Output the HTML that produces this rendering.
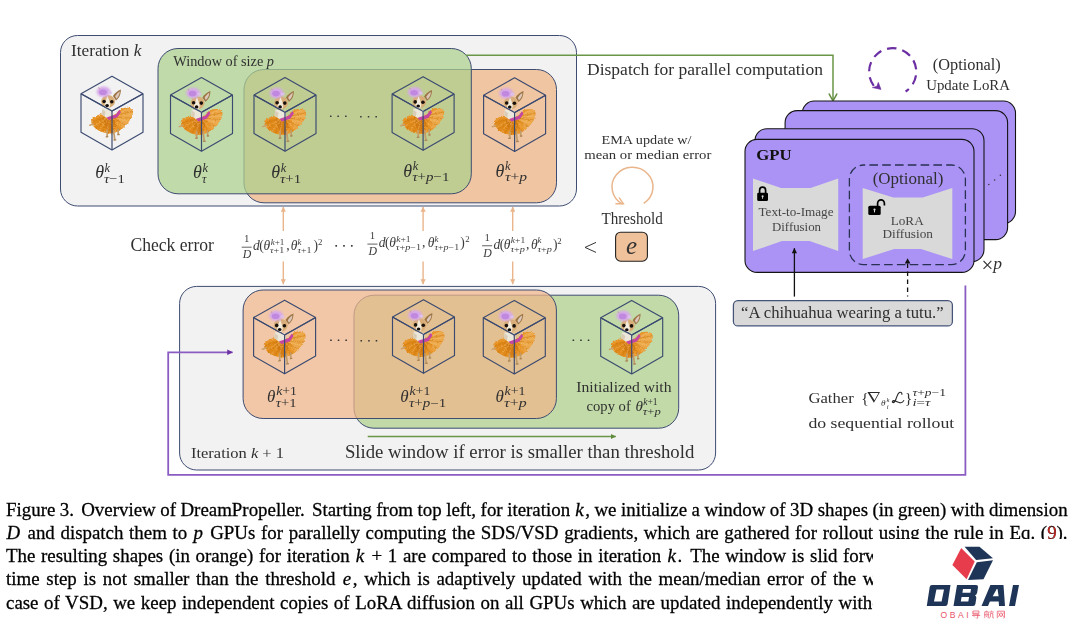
<!DOCTYPE html>
<html>
<head>
<meta charset="utf-8">
<title>Figure 3 - DreamPropeller</title>
<style>
html,body{margin:0;padding:0;background:#fff;}
body{width:1080px;height:629px;position:relative;overflow:hidden;font-family:"Liberation Serif",serif;}
svg{position:absolute;left:0;top:0;}
body>svg,.cap{will-change:transform;}
svg text{font-family:"Liberation Serif",serif;fill:#303030;}
svg .fm text{fill:#3c3c3c;}
.it{font-style:italic;}
.cap{position:absolute;left:6.1px;width:1070px;height:24px;font-size:18.9px;line-height:24px;color:#000;text-align:left;white-space:nowrap;-webkit-text-stroke:0.28px #000;font-family:"Liberation Serif",serif;}
.cap b{display:inline-block;width:2.7px;}
.cap i{font-style:italic;margin:0 1.6px 0 0.6px;}
.wm{position:absolute;left:873px;top:539px;width:207px;height:90px;background:#fff;}
</style>
</head>
<body>
<svg width="1080" height="629" viewBox="0 0 1080 629">
<defs>
  <filter id="bl" x="-20%" y="-20%" width="140%" height="140%"><feGaussianBlur stdDeviation="0.7"/></filter>
  <filter id="bl2" x="-30%" y="-30%" width="160%" height="160%"><feGaussianBlur stdDeviation="1.1"/></filter>
  <!-- dog + cube, origin = cube top vertex -->
  <filter id="fluff" x="-20%" y="-20%" width="140%" height="140%">
    <feTurbulence type="fractalNoise" baseFrequency="0.55" numOctaves="2" seed="7" result="n"/>
    <feDisplacementMap in="SourceGraphic" in2="n" scale="3.2" xChannelSelector="R" yChannelSelector="G" result="d"/>
    <feGaussianBlur in="d" stdDeviation="0.45"/>
  </filter>
  <filter id="tex" x="0" y="0" width="100%" height="100%">
    <feTurbulence type="fractalNoise" baseFrequency="0.9 0.35" numOctaves="2" seed="3" result="n"/>
    <feColorMatrix in="n" type="matrix" values="0 0 0 0 0.78  0 0 0 0 0.42  0 0 0 0 0.05  1.6 0 0 0 -0.55" result="c"/>
    <feComposite in="c" in2="SourceGraphic" operator="in"/>
  </filter>
  <g id="dog">
    <g transform="translate(-0.4,33) scale(1.03,1.075) translate(0,-33)">
    <!-- tutu -->
    <g filter="url(#fluff)">
      <path d="M-19.8,44.7 C-19.4,42.4 -18.2,40.8 -16.7,40.2 C-14.8,38.8 -12.6,38 -10.3,37.7 C-7.6,38.6 -5.2,39.8 -2.7,40.2 C0,39.4 2.6,38 4.9,36.4 C6.2,35 7.4,33.6 8.7,32.6 C11,31.6 13.8,31.2 16.4,31.6 C18.6,32.2 20.4,33.4 20.8,35.1 C20.8,37.4 20,39.6 18.9,41.5 C17.5,43.8 15.8,46 13.8,47.9 C11.9,49.8 9.8,51.5 7.5,52.9 C5.1,54.2 2.6,55.2 -0.1,55.6 C-3.2,55.6 -6.2,55.1 -9,54.2 C-11.6,53.3 -14,52 -16,50.4 C-17.9,48.9 -19.4,47 -19.8,44.7 Z" fill="#e8952a"/>
      <path d="M6.2,38 C8,34.6 13.5,31.6 18.2,32.4 C20.6,33.6 20.6,37.4 18.9,41.5 C16.8,45 14,47.8 11,50 C8.2,47 6.2,42.6 6.2,38 Z" fill="#eca748"/>
      <path d="M-18.4,45 C-16.5,41.2 -11,39.4 -6.5,40.6 C-3.6,44.6 -3.6,51.4 -6.8,54.4 C-12.4,53.8 -17.6,50 -18.4,45 Z" fill="#e08a1c"/>
      <path d="M-8.5,41 C-5.5,42.4 -1,42.6 3,41 C4.6,45.6 3.6,51.4 0.4,55 C-3.4,54.6 -7.2,50 -8.5,41 Z" fill="#d47d14"/>
    </g>
    <g filter="url(#fluff)" fill="none" stroke-linecap="round">
      <path d="M-5.5,40.6 L-19.3,44.5 M-4.7,41.9 L-15.6,50.3 M-3.1,42.7 L-8.8,53.8 M-1.2,43.0 L-0.1,55.1 M0.5,42.4 L7.2,52.5 M1.9,41.3 L13.3,47.6 M3.0,39.9 L18.3,41.4 M3.4,38.5 L19.9,35.2" stroke="#c9720e" stroke-width="0.9" opacity="0.5"/>
      <path d="M-5.1,41.6 L-17.5,48.7 M-3.9,42.4 L-12.2,52.4 M-2.3,43.0 L-4.9,54.7 M-0.4,42.8 L3.3,54.1 M1.2,41.9 L10.4,50.3 M2.5,40.7 L16.0,44.6 M3.3,39.2 L19.5,38.0 M2.6,38.1 L16.4,33.2" stroke="#f5c77c" stroke-width="0.9" opacity="0.42"/>
    </g>
    </g>
    <!-- tail -->
    <path d="M-22.2,49 L-18.5,47.6" stroke="#c9a06c" stroke-width="1.5" stroke-linecap="round"/>
    <!-- legs -->
    <path d="M-4.8,54 L-4.9,60 M1.6,54 L2.7,63 M6.1,53 L6.2,57.8" stroke="#c39c68" stroke-width="1.7" stroke-linecap="round"/>
    <path d="M-5.8,60.6 L-4.2,60.4 M2,63.7 L3.8,63.5 M5.8,58.4 L7.2,58.2" stroke="#a88455" stroke-width="1.3" stroke-linecap="round"/>
    <!-- pink band -->
    <path d="M-6.6,40 L3.6,38.4 L7.4,33.4 L8.9,35.9 L5.2,41.2 L-3.2,43.8 Z" fill="#c446a4" filter="url(#bl)"/>
    <!-- chest -->
    <path d="M-9.6,31.8 L0.4,33.3 L1.4,38.8 L-5.9,41.4 L-10.4,37.6 Z" fill="#ece7db"/>
    <path d="M-9.6,33 L-6.5,35.5 L-7.4,40 L-10.4,37.6 Z" fill="#d9cdb8"/>
    <!-- ears -->
    <path d="M0.9,19.8 C3,16.5 6,14.5 8.9,13.3 C8.8,16 8.4,18 7.7,19.6 C6.8,21.4 5.5,23 4,24.1 Z" fill="#9c7444"/>
    <path d="M3.1,20 C4.6,17.6 6.2,16.2 7.8,15.2 C7.7,17.2 7.2,18.8 6.4,20 C5.8,21.2 5,22 4.3,22.5 Z" fill="#dcc7ba"/>
    <path d="M-12.2,15.2 L-13.8,10.8 L-10.2,13.8 Z" fill="#a98050"/>
    <!-- head -->
    <ellipse cx="-3.9" cy="25.1" rx="6.9" ry="6.3" fill="#d8ad78"/>
    <path d="M-4.6,19.4 C-3.4,22 -2.6,25 -1.9,27.6 C-1.6,30 -2.8,32 -4.8,32.2 C-6.8,32 -7.8,30 -7.4,27.8 C-6.6,25.5 -5.6,22.5 -4.6,19.4 Z" fill="#f3ecdc"/>
    <circle cx="-7.9" cy="25.2" r="1.8" fill="#17100c"/>
    <circle cx="-0.2" cy="25.5" r="1.8" fill="#17100c"/>
    <ellipse cx="-4.9" cy="29.3" rx="1.8" ry="1.55" fill="#120c0a"/>
    <!-- purple pouf -->
    <ellipse cx="-8.4" cy="15.4" rx="6.9" ry="5.2" fill="#d6a8ea" filter="url(#bl2)"/>
    <ellipse cx="-2.2" cy="16.4" rx="2" ry="1.6" fill="#dcc0ea" filter="url(#bl)"/>
    <ellipse cx="-9" cy="16" rx="3.8" ry="2.8" fill="#c088de" filter="url(#bl)"/>
  </g>
  <g id="cubeback">
    <path d="M0,0 L-31,17.4 L0,34.7 L31,17.4 Z M-31,17.4 L-31,55.9 L0,73.6 L31,55.9 L31,17.4" fill="none" stroke="#3b4a70" stroke-width="1.15" stroke-linejoin="round"/>
  </g>
  <g id="cube">
    <use href="#cubeback"/>
    <use href="#dog"/>
    <path d="M0,34.7 L0,73.6" fill="none" stroke="#3b4a70" stroke-width="1.2"/>
    <path d="M-31,17.4 L0,34.7 L31,17.4" fill="none" stroke="#3b4a70" stroke-width="1.15"/>
  </g>
</defs>

<!-- ============ TOP: Iteration k ============ -->
<rect x="60.5" y="35.5" width="516" height="170.5" rx="17" ry="17" fill="#f2f2f2" stroke="#3e4c72" stroke-width="1"/>
<rect x="244" y="69.5" width="312.5" height="133.3" rx="20" ry="20" fill="#f0c5a2" stroke="#3e4c72" stroke-width="1"/>
<rect x="158" y="48.5" width="313.3" height="145.3" rx="20" ry="20" fill="#add08d" fill-opacity="0.73" stroke="#3e4c72" stroke-width="1"/>


<!-- cubes top -->
<use href="#cube" x="112" y="76.3"/>
<use href="#cube" x="201.5" y="77.6"/>
<use href="#cube" x="285" y="77.6"/>
<use href="#cube" x="423.1" y="76.7"/>
<use href="#cube" x="514.6" y="77.8"/>
<text x="71" y="55.8" font-size="16.3" textLength="70.3" lengthAdjust="spacingAndGlyphs">Iteration <tspan class="it">k</tspan></text>
<text x="173.3" y="66.2" font-size="13.6" textLength="100.7" lengthAdjust="spacingAndGlyphs">Window of size <tspan class="it">p</tspan></text>
<!-- dots top -->
<g fill="#3a3a3a">
<rect x="329.95" y="115.45" width="1.6" height="1.6" rx="0.4"/><rect x="337.35" y="115.45" width="1.6" height="1.6" rx="0.4"/><rect x="345.05" y="115.45" width="1.6" height="1.6" rx="0.4"/>
<rect x="360.05" y="115.95" width="1.6" height="1.6" rx="0.4"/><rect x="367.75" y="115.95" width="1.6" height="1.6" rx="0.4"/><rect x="375.35" y="115.95" width="1.6" height="1.6" rx="0.4"/>
</g>
<!-- theta labels top -->
<g font-size="18">
<text x="95.2" y="178.3" class="it">θ<tspan font-size="12.3" x="104.6" y="171.6">k</tspan></text>
<text x="104" y="182.8" font-size="12.3" class="it" textLength="20.9" lengthAdjust="spacingAndGlyphs">τ<tspan font-style="normal">−1</tspan></text>
<text x="193" y="178.3" class="it">θ<tspan font-size="12.3" x="202.4" y="171.6">k</tspan><tspan font-size="12.3" x="202" y="182.8">τ</tspan></text>
<text x="271.3" y="178.3" class="it">θ<tspan font-size="12.3" x="280.7" y="171.6">k</tspan></text>
<text x="280" y="182.8" font-size="12.3" class="it" textLength="21.1" lengthAdjust="spacingAndGlyphs">τ<tspan font-style="normal">+1</tspan></text>
<text x="403.3" y="176.5" class="it">θ<tspan font-size="12.3" x="412.7" y="169.8">k</tspan></text>
<text x="412.2" y="181" font-size="12.3" class="it" textLength="37.3" lengthAdjust="spacingAndGlyphs">τ<tspan font-style="normal">+</tspan>p<tspan font-style="normal">−1</tspan></text>
<text x="495.5" y="176.5" class="it">θ<tspan font-size="12.3" x="504.9" y="169.8">k</tspan></text>
<text x="505" y="181" font-size="12.3" class="it" textLength="22.2" lengthAdjust="spacingAndGlyphs">τ<tspan font-style="normal">+</tspan>p</text>
</g>


<!-- ============ MIDDLE ROW ============ -->
<defs>
  <marker id="ao" viewBox="0 0 10 10" refX="9.6" refY="5" markerWidth="5.4" markerHeight="5.4" orient="auto-start-reverse" markerUnits="userSpaceOnUse">
    <path d="M0.4,0.2 L10,5 L0.4,9.8 Z" fill="#eab58b" stroke="none"/>
  </marker>
</defs>
<g stroke="#eab58b" stroke-width="1.4" fill="none">
  <path d="M283.3,231 L283.3,206.9" marker-end="url(#ao)"/>
  <path d="M283.3,261.6 L283.3,284.2" marker-end="url(#ao)"/>
  <path d="M423.1,231 L423.1,206.9" marker-end="url(#ao)"/>
  <path d="M423.1,261.6 L423.1,284.2" marker-end="url(#ao)"/>
  <path d="M512.7,231 L512.7,206.9" marker-end="url(#ao)"/>
  <path d="M512.7,261.6 L512.7,284.2" marker-end="url(#ao)"/>
</g>
<text x="130.4" y="250.6" font-size="18.2" textLength="83.6" lengthAdjust="spacingAndGlyphs">Check error</text>

<!-- formula 1 -->
<g class="fm" fill="#3a3a3a">
<line x1="241.7" y1="247.2" x2="251.7" y2="247.2" stroke="#3a3a3a" stroke-width="0.8"/>
<text x="246.8" y="242.2" font-size="10.8" text-anchor="middle">1</text>
<text x="247" y="258.3" font-size="11.8" text-anchor="middle" class="it">D</text>
<text y="250" font-size="13.6"><tspan x="252.9" class="it">d</tspan><tspan x="259.2">(</tspan><tspan x="263.4" class="it">θ</tspan><tspan x="286.3">,</tspan><tspan x="290.8" class="it">θ</tspan><tspan x="313.4">)</tspan></text>
<text font-size="8.8" x="270.7" y="244.8" textLength="13.7" lengthAdjust="spacingAndGlyphs"><tspan class="it">k</tspan>+1</text>
<text font-size="8.8" x="270" y="253.4" textLength="14.3" lengthAdjust="spacingAndGlyphs"><tspan class="it">τ</tspan>+1</text>
<text font-size="8.8" x="297.6" y="244.8" class="it">k</text>
<text font-size="8.8" x="297.4" y="253.4" textLength="14.2" lengthAdjust="spacingAndGlyphs"><tspan class="it">τ</tspan>+1</text>
<text font-size="8.8" x="317.9" y="245.4">2</text>
</g>
<g fill="#333"><rect x="335.35" y="244.95" width="1.7" height="1.7" rx="0.4"/><rect x="343.15" y="244.95" width="1.7" height="1.7" rx="0.4"/><rect x="350.95" y="244.95" width="1.7" height="1.7" rx="0.4"/></g>

<!-- formula 2 -->
<g class="fm" fill="#3a3a3a" transform="translate(0,-3.1)">
<line x1="367.4" y1="247.2" x2="377.5" y2="247.2" stroke="#3a3a3a" stroke-width="0.8"/>
<text x="372.5" y="242.2" font-size="10.8" text-anchor="middle">1</text>
<text x="372.7" y="258.3" font-size="11.8" text-anchor="middle" class="it">D</text>
<text y="250" font-size="13.6"><tspan x="378.7" class="it">d</tspan><tspan x="385">(</tspan><tspan x="389.2" class="it">θ</tspan><tspan x="422">,</tspan><tspan x="427.8" class="it">θ</tspan><tspan x="460.2">)</tspan></text>
<text font-size="8.8" x="396.2" y="244.8" textLength="14.4" lengthAdjust="spacingAndGlyphs"><tspan class="it">k</tspan>+1</text>
<text font-size="8.8" x="434.6" y="244.8" class="it">k</text>
<text font-size="8.8" x="465.3" y="245.4">2</text>
<text font-size="8.6" x="395.8" y="253.4" textLength="25.4" lengthAdjust="spacingAndGlyphs"><tspan class="it">τ</tspan>+<tspan class="it">p</tspan>−1</text>
<text font-size="8.6" x="434.4" y="253.4" textLength="24.8" lengthAdjust="spacingAndGlyphs"><tspan class="it">τ</tspan>+<tspan class="it">p</tspan>−1</text>
</g>

<!-- formula 3 -->
<g class="fm" fill="#3a3a3a" transform="translate(0,-1.45)">
<line x1="482.1" y1="247.2" x2="492.2" y2="247.2" stroke="#3a3a3a" stroke-width="0.8"/>
<text x="487.2" y="242.2" font-size="10.8" text-anchor="middle">1</text>
<text x="487.4" y="258.3" font-size="11.8" text-anchor="middle" class="it">D</text>
<text y="250" font-size="13.6"><tspan x="493.4" class="it">d</tspan><tspan x="499.7">(</tspan><tspan x="503.8" class="it">θ</tspan><tspan x="526">,</tspan><tspan x="531" class="it">θ</tspan><tspan x="553">)</tspan></text>
<text font-size="8.8" x="510.8" y="244.8" textLength="14.4" lengthAdjust="spacingAndGlyphs"><tspan class="it">k</tspan>+1</text>
<text font-size="8.8" x="537.6" y="244.8" class="it">k</text>
<text font-size="8.8" x="557.3" y="245.4">2</text>
<text font-size="8.6" x="510.4" y="253.4" textLength="14.6" lengthAdjust="spacingAndGlyphs"><tspan class="it">τ</tspan>+<tspan class="it">p</tspan></text>
<text font-size="8.6" x="537.4" y="253.4" textLength="14.6" lengthAdjust="spacingAndGlyphs"><tspan class="it">τ</tspan>+<tspan class="it">p</tspan></text>
</g>

<!-- < e -->
<path d="M596,242.4 L585,247.4 L596,252.4" fill="none" stroke="#333" stroke-width="1"/>
<rect x="615.6" y="232.2" width="31.8" height="29" rx="5" ry="5" fill="#f0c29c" stroke="#222" stroke-width="1.1"/>
<text x="631.6" y="253.6" font-size="25" text-anchor="middle" class="it" style="fill:#333">e</text>
<text x="601.5" y="223.7" font-size="15.8" textLength="61.3" lengthAdjust="spacingAndGlyphs">Threshold</text>

<!-- EMA -->
<text x="601.5" y="143.8" font-size="13.4" textLength="90" lengthAdjust="spacingAndGlyphs">EMA update w/</text>
<text x="584.3" y="159.3" font-size="13.4" textLength="127" lengthAdjust="spacingAndGlyphs">mean or median error</text>
<path d="M643.7,203.34 A20.5,19.6 0 1 0 622.6,204.1" fill="none" stroke="#eab58b" stroke-width="1.5"/>
<path d="M619.3,197.9 L623.4,203.7 L615.9,203.7" fill="none" stroke="#eab58b" stroke-width="1.4" stroke-linecap="round" stroke-linejoin="miter"/>

<!-- ============ BOTTOM: Iteration k+1 ============ -->
<rect x="179.6" y="286.4" width="536" height="183.6" rx="17" ry="17" fill="#f2f2f2" stroke="#3e4c72" stroke-width="1"/>
<rect x="354" y="295.2" width="324.7" height="133" rx="20" ry="20" fill="#c1daa8" stroke="#3e4c72" stroke-width="1"/>
<rect x="243.1" y="290" width="313.3" height="128.5" rx="20" ry="20" fill="#f0b589" fill-opacity="0.72" stroke="#3e4c72" stroke-width="1"/>

<!-- cubes bottom -->
<use href="#cube" x="284.6" y="300.2"/>
<use href="#cube" x="423.5" y="299.7"/>
<use href="#cube" x="514.3" y="300.4"/>
<use href="#cube" x="631.7" y="300.4"/>
<g fill="#333">
<rect x="330.15" y="339.45" width="1.6" height="1.6" rx="0.4"/><rect x="337.75" y="339.45" width="1.6" height="1.6" rx="0.4"/><rect x="345.35" y="339.45" width="1.6" height="1.6" rx="0.4"/>
<rect x="360.45" y="339.95" width="1.6" height="1.6" rx="0.4"/><rect x="368.15" y="339.95" width="1.6" height="1.6" rx="0.4"/><rect x="375.65" y="339.95" width="1.6" height="1.6" rx="0.4"/>
<rect x="572.55" y="339.45" width="1.6" height="1.6" rx="0.4"/><rect x="580.15" y="339.45" width="1.6" height="1.6" rx="0.4"/><rect x="587.75" y="339.45" width="1.6" height="1.6" rx="0.4"/>
</g>
<g font-size="17">
<text x="267" y="402.2" class="it">θ</text>
<text x="276.2" y="395.4" font-size="11.6" class="it" textLength="20.8" lengthAdjust="spacingAndGlyphs">k<tspan font-style="normal">+1</tspan></text>
<text x="275.8" y="406.6" font-size="11.6" class="it" textLength="20.8" lengthAdjust="spacingAndGlyphs">τ<tspan font-style="normal">+1</tspan></text>
<text x="400.3" y="402.2" class="it">θ</text>
<text x="409.5" y="395.4" font-size="11.6" class="it" textLength="20.8" lengthAdjust="spacingAndGlyphs">k<tspan font-style="normal">+1</tspan></text>
<text x="408.9" y="406.6" font-size="11.6" class="it" textLength="37.4" lengthAdjust="spacingAndGlyphs">τ<tspan font-style="normal">+</tspan>p<tspan font-style="normal">−1</tspan></text>
<text x="495.4" y="402.2" class="it">θ</text>
<text x="504.6" y="395.4" font-size="11.6" class="it" textLength="20.8" lengthAdjust="spacingAndGlyphs">k<tspan font-style="normal">+1</tspan></text>
<text x="504" y="406.6" font-size="11.6" class="it" textLength="22.6" lengthAdjust="spacingAndGlyphs">τ<tspan font-style="normal">+</tspan>p</text>
</g>
<text x="576.3" y="391.7" font-size="15.2" textLength="95.2" lengthAdjust="spacingAndGlyphs">Initialized with</text>
<text x="586.6" y="411.3" font-size="15.2" textLength="44.2" lengthAdjust="spacingAndGlyphs">copy of</text>
<text x="635.4" y="411.3" font-size="15.2" class="it">θ<tspan font-size="9.6" x="643.2" y="405.4">k<tspan font-style="normal">+1</tspan></tspan></text>
<text x="642.8" y="415" font-size="9.6" class="it" textLength="18" lengthAdjust="spacingAndGlyphs">τ<tspan font-style="normal">+</tspan>p</text>

<text x="191" y="457.6" font-size="14.6" textLength="93" lengthAdjust="spacingAndGlyphs">Iteration <tspan class="it">k</tspan> + 1</text>
<text x="344.9" y="457.8" font-size="18.7" textLength="349.4" lengthAdjust="spacingAndGlyphs">Slide window if error is smaller than threshold</text>
<defs>
  <marker id="ag" viewBox="0 0 10 10" refX="9.6" refY="5" markerWidth="5.4" markerHeight="5.4" orient="auto" markerUnits="userSpaceOnUse">
    <path d="M0.4,0.2 L10,5 L0.4,9.8 Z" fill="#5f8a3c"/>
  </marker>
  <marker id="ap" viewBox="0 0 10 10" refX="9.6" refY="5" markerWidth="5.8" markerHeight="5.8" orient="auto" markerUnits="userSpaceOnUse">
    <path d="M0.4,0.2 L10,5 L0.4,9.8 Z" fill="#6b2fa3"/>
  </marker>
</defs>
<path d="M367.7,436.5 L615.8,436.5" fill="none" stroke="#6a9648" stroke-width="1.6" marker-end="url(#ag)"/>
<!-- purple gather line -->
<path d="M965.4,285.5 L965.4,474.8 L168.2,474.8 L168.2,352.3 L232.6,352.3" fill="none" stroke="#8a5cc2" stroke-width="1.8" marker-end="url(#ap)"/>

<!-- ============ RIGHT: GPUs ============ -->
<path d="M466,55.3 L833,55.3 L833,100.2" fill="none" stroke="#6a9648" stroke-width="1.5"/>
<path d="M829.2,94 C830.4,96.6 831.8,98.8 833,100.7 C834.2,98.8 835.6,96.6 836.8,94" fill="none" stroke="#5f8a3c" stroke-width="1.5" stroke-linecap="round"/>
<text x="587" y="75" font-size="16.8" textLength="236" lengthAdjust="spacingAndGlyphs">Dispatch for parallel computation</text>

<!-- dashed loop -->
<path d="M905.6,91.5 A23.6,23.6 0 1 0 874.6,86.9" fill="none" stroke="#6b2fa3" stroke-width="2.2" stroke-dasharray="9.4,6" stroke-dashoffset="5.2"/>
<path d="M881,89.4 L872.4,87.6 L876.9,86.3 L878.3,82.3 Z" fill="#6b2fa3" stroke="#6b2fa3" stroke-width="0.6" stroke-linejoin="round"/>
<text x="932.8" y="70" font-size="15.8" textLength="68" lengthAdjust="spacingAndGlyphs">(Optional)</text>
<text x="926.2" y="90" font-size="14.4" textLength="83.8" lengthAdjust="spacingAndGlyphs">Update LoRA</text>

<!-- cards back to front -->
<g fill="#ab93f6" stroke="#141414" stroke-width="1.1">
<rect x="802.3" y="101" width="213.2" height="122.6" rx="12" ry="12"/>
<rect x="785.1" y="110.6" width="222.5" height="129" rx="12" ry="12"/>
<rect x="755" y="128.7" width="229" height="133" rx="12" ry="12"/>
<rect x="745" y="139.4" width="229" height="133" rx="12" ry="12"/>
</g>
<g fill="#333"><circle cx="988.8" cy="184.6" r="0.75"/><circle cx="994.6" cy="179.9" r="0.75"/><circle cx="1000.4" cy="175.2" r="0.75"/></g>
<text x="981.6" y="271.6" font-size="21">×</text>
<text x="993.2" y="269.2" font-size="17.5" class="it">p</text>
<text x="756.2" y="160.4" font-size="15.2" font-weight="bold" style="fill:#111" textLength="35.4" lengthAdjust="spacingAndGlyphs">GPU</text>

<!-- unet 1 -->
<path d="M753,178.5 L781,188 L810.6,188 L838.2,178.5 L838.2,251 L809.6,241.1 L782,241.1 L753,251 Z" fill="#d9d9d9"/>
<g fill="#000">
  <path d="M759.6,193 L759.6,190.2 A3,3.1 0 0 1 765.6,190.2 L765.6,193" fill="none" stroke="#000" stroke-width="1.7"/>
  <rect x="757.2" y="192.7" width="10.8" height="8.4" rx="1.4" ry="1.4"/>
  <circle cx="762.6" cy="196.2" r="1.05" fill="#d9d9d9"/><rect x="762.15" y="196.2" width="0.9" height="2.6" fill="#d9d9d9"/>
</g>
<text x="758.5" y="215.9" font-size="12.6" style="fill:#464646" textLength="75" lengthAdjust="spacingAndGlyphs">Text-to-Image</text>
<text x="772" y="230.6" font-size="12.6" style="fill:#464646" textLength="49" lengthAdjust="spacingAndGlyphs">Diffusion</text>

<!-- optional dashed box -->
<rect x="849.4" y="165" width="116" height="99.6" rx="14" ry="14" fill="none" stroke="#283152" stroke-width="1.3" stroke-dasharray="8.6,4.2" stroke-dashoffset="-6"/>
<text x="872.7" y="184" font-size="16" textLength="70.7" lengthAdjust="spacingAndGlyphs">(Optional)</text>
<!-- unet 2 -->
<path d="M862.7,188.1 L893.3,197.4 L922.7,197.4 L952.3,188.1 L952.3,259 L921,249.1 L894.2,249.1 L862.7,259 Z" fill="#d9d9d9"/>
<g fill="#000">
  <path d="M877.6,206.2 L877.6,203.4 A3.4,3.5 0 0 1 884.4,203.4 L884.4,205.6" fill="none" stroke="#000" stroke-width="1.7"/>
  <rect x="868.3" y="205.8" width="12.4" height="9.2" rx="1.5" ry="1.5"/>
  <circle cx="874.5" cy="209.6" r="1.1" fill="#d9d9d9"/><rect x="874" y="209.6" width="1" height="2.8" fill="#d9d9d9"/>
</g>
<text x="890.7" y="224.7" font-size="12.8" style="fill:#464646" textLength="33" lengthAdjust="spacingAndGlyphs">LoRA</text>
<text x="882.4" y="237.7" font-size="12.8" style="fill:#464646" textLength="50.6" lengthAdjust="spacingAndGlyphs">Diffusion</text>

<!-- arrows from prompt -->
<defs>
  <marker id="ak" viewBox="0 0 10 10" refX="9.6" refY="5" markerWidth="5.6" markerHeight="5.6" orient="auto" markerUnits="userSpaceOnUse">
    <path d="M0.4,0.2 L10,5 L0.4,9.8 Z" fill="#111"/>
  </marker>
</defs>
<path d="M794.4,296.6 L794.4,248.2" fill="none" stroke="#111" stroke-width="1.3" marker-end="url(#ak)"/>
<path d="M907.6,253.6 L907.6,258.6" fill="none" stroke="#111" stroke-width="1.3" marker-end="url(#ak)" visibility="hidden"/>
<path d="M904.8,263.6 L907.6,258.3 L910.4,263.6 Z" fill="#111"/>
<path d="M907.6,263.6 L907.6,296.6" fill="none" stroke="#111" stroke-width="1.3" stroke-dasharray="4.4,3.6"/>

<!-- prompt box -->
<rect x="733.4" y="300.5" width="219" height="25.4" rx="4.5" ry="4.5" fill="#d9d9d9" stroke="#46547a" stroke-width="1.25"/>
<text x="741" y="317.9" font-size="16.6" textLength="202.6" lengthAdjust="spacingAndGlyphs">“A chihuahua wearing a tutu.”</text>

<!-- gather -->
<text x="808.4" y="402.6" font-size="15.6" textLength="45.4" lengthAdjust="spacingAndGlyphs">Gather</text>
<text x="861.2" y="402.8" font-size="15.6">{</text>
<path d="M867.4,392.1 H880 L873.9,402.8 Z M869.9,393.1 H878.5 L874.5,400.3 Z" fill="#2b2b2b" fill-rule="evenodd"/>
<text x="881" y="405.9" font-size="9.2" class="it">θ</text>
<text x="886.6" y="402.3" font-size="6.6" class="it">k</text>
<text x="886.8" y="409" font-size="6.6" class="it">i</text>
<path d="M901.9,394.3 C902.1,392.6 900.6,391.8 899.3,392.5 C897.5,393.6 897,396.4 896,399 C895.2,401.2 894.2,402.9 892.9,402.5 C891.9,402.1 892.4,400.6 893.8,400.6 C896,400.8 898.5,402.9 900.6,402.8 C902.2,402.7 903.2,401.8 903.7,400.6" fill="none" stroke="#2b2b2b" stroke-width="1.15" stroke-linecap="round"/>
<text x="904.8" y="402.8" font-size="15.6">}</text>
<text x="912.4" y="395.7" font-size="9.8" textLength="33.6" lengthAdjust="spacingAndGlyphs"><tspan class="it">τ</tspan>+<tspan class="it">p</tspan>−1</text>
<text x="912.4" y="406" font-size="9.8" textLength="18" lengthAdjust="spacingAndGlyphs"><tspan class="it">i</tspan>=<tspan class="it">τ</tspan></text>
<text x="808.4" y="428" font-size="15.6" textLength="145.8" lengthAdjust="spacingAndGlyphs">do sequential rollout</text>

</svg>
<div class="cap" style="top:497.6px;word-spacing:-0.211px">Figure 3.<b></b> Overview of DreamPropeller.<b></b> Starting from top left, for iteration <i>k</i>, we initialize a window of 3D shapes (in green) with dimension</div>
<div class="cap" style="top:520.9px;word-spacing:0.937px"><i>D</i> and dispatch them to <i>p</i> GPUs for parallelly computing the SDS/VSD gradients, which are gathered for rollout using the rule in Eq. (<span style="color:#e0201c">9</span>).</div>
<div class="cap" style="top:544px;word-spacing:0.959px">The resulting shapes (in orange) for iteration <i>k</i> + 1 are compared to those in iteration <i>k</i>.<b></b> The window is slid forward until the error at that</div>
<div class="cap" style="top:567.2px;word-spacing:2.018px">time step is not smaller than the threshold <i>e</i>, which is adaptively updated with the mean/median error of the window.<b></b> (Optional) In the</div>
<div class="cap" style="top:590.5px;word-spacing:0.876px">case of VSD, we keep independent copies of LoRA diffusion on all GPUs which are updated independently without communication.</div>
<div class="wm">
<svg width="207" height="90" viewBox="873 539 207 90">
  <path d="M952.4,565 L961.2,548.1 L974.7,561.6 L966.6,579.2 Z" fill="#e73c4c"/>
  <path d="M964.6,546.8 L979.5,546.8 L993,558.2 L976.1,560 Z" fill="#1e3558"/>
  <path d="M976.8,562.3 L993,560.3 L983.5,579.2 L968,579.9 Z" fill="#1e3558"/>
  <g fill="#1e3558" fill-rule="evenodd">
    <!-- O -->
    <path d="M926.8,606 L929.7,587 Q930,585 932,585 L950.5,585 L947.6,604 Q947.3,606 945.3,606 Z M934,601.6 L936.4,589.4 L944,589.4 L941.6,601.6 Z"/>
    <!-- B -->
    <path d="M953.5,606 L957,585 L976,585 Q978.3,585 978,587 L977.2,592.6 Q976.9,594.6 975,595.4 Q976.6,596.2 976.3,598.2 L975.4,604 Q975.1,606 973,606 Z M962.4,592.7 L963,589 L971,589 L970.4,592.7 Z M960.8,601.6 L961.6,597 L969.1,597 L968.3,601.6 Z"/>
    <!-- A -->
    <path d="M981.5,606 L990.4,585 L1003.5,585 L1005,606 L999,606 L998.7,601.6 L989.9,601.6 L988,606 Z M992.7,596.3 L996.7,588.9 L997.5,588.9 L998.6,596.3 Z"/>
    <!-- I -->
    <path d="M1009,606 L1013,585 L1019,585 L1015,606 Z"/>
  </g>
  <text x="940.6" y="617.6" font-size="8.6" letter-spacing="2.5" style="font-family:'Liberation Sans',sans-serif;fill:#e85468">OBAI</text>
  <g fill="none" stroke="#e85468" stroke-width="0.75">
    <!-- dao -->
    <path transform="translate(-0.6,0.2)" d="M973.5,610.8 H979.5 V613 H973.5 Z M973.5,613 V614 H980 M972.6,615.3 H980.8 M978.3,614.2 V617.8 Q978.2,618.2 977,618 M974.6,616.2 L975.6,617.2"/>
    <!-- hang -->
    <path transform="translate(2.2,0.2)" d="M984.4,610.4 L983.8,611.4 M982.6,611.6 H986 V618 M982.6,611.6 V616.5 Q982.6,617.6 982,618 M982,614.6 H986.6 M984.3,612.6 V613.4 M984.3,615.6 V616.6 M989.2,610.4 V611.4 M987.2,611.8 H991.6 M988.2,613.4 H990.6 V617.4 Q990.7,618 991.8,617.8 M988.2,613.4 V616 Q988.1,617.4 987,618"/>
    <!-- wang -->
    <path transform="translate(2.9,0.2)" d="M994.4,618 V611 H1001.6 V617.2 Q1001.6,618 1000.4,617.9 M995.6,612.4 L997.8,616.6 M997.8,612.4 L995.6,616.6 M998.4,612.4 L1000.6,616.6 M1000.6,612.4 L998.4,616.6"/>
  </g>
</svg>
</div>
</body>
</html>
